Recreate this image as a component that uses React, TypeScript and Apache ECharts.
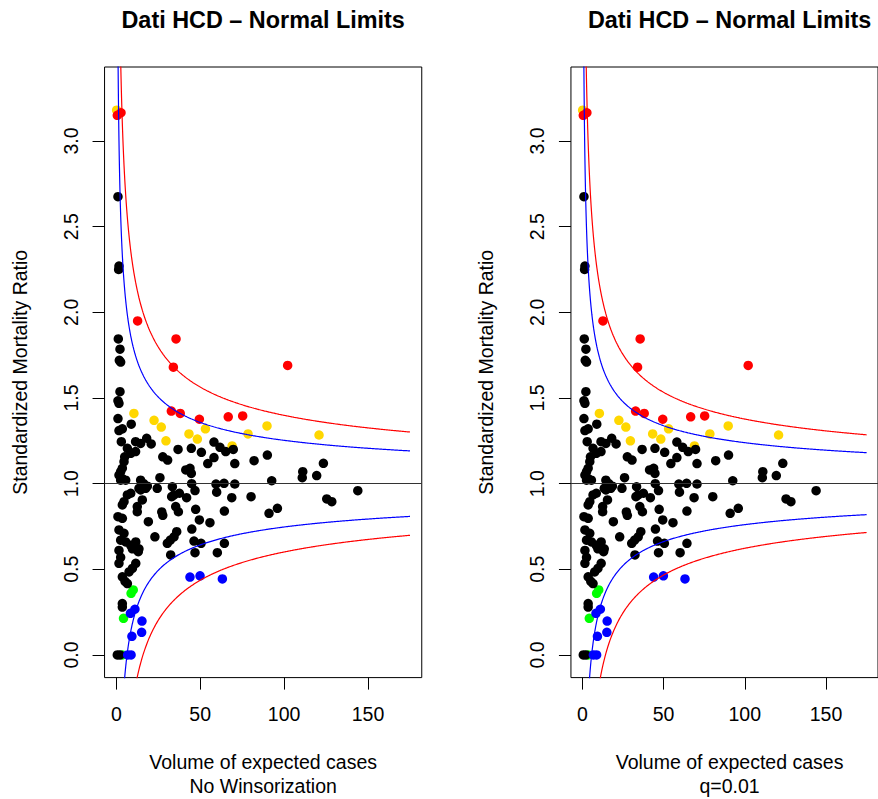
import React, { useEffect, useRef } from "react";
import * as echarts from "echarts";

// ---------- texts ----------
const panelTitles = ["Dati HCD – Normal Limits", "Dati HCD – Normal Limits"];
const xAxisTitles = [
  "Volume of expected cases\nNo Winsorization",
  "Volume of expected cases\nq=0.01",
];
const yAxisTitle = "Standardized Mortality Ratio";

// ---------- axes ----------
const xTicks = [0, 50, 100, 150];
const yTicks = [0, 0.5, 1, 1.5, 2, 2.5, 3];
const X_MIN = -7;
const X_MAX = 182;
const Y_MIN = -0.132;
const Y_MAX = 3.432;
const TARGET = 1;

// ---------- data: [expected cases, SMR] ----------
const inControl: number[][] = [
  [1.0, 2.675], [1.6, 2.27], [1.4, 2.25], [1.2, 1.845], [2.2, 1.785],
  [1.8, 1.72], [2.6, 1.71], [2.2, 1.537], [1.0, 1.484], [1.6, 1.469],
  [1.0, 1.38], [8.9, 1.347], [1.6, 1.31], [3.6, 1.32], [3.0, 1.245],
  [11.5, 1.245], [14.5, 1.235], [18.1, 1.265], [20.8, 1.232],
  [6.6, 1.206], [11.5, 1.187], [8.6, 1.177], [5.0, 1.157], [4.6, 1.128],
  [3.6, 1.09], [2.6, 1.07], [36.8, 1.2], [44.7, 1.206], [27.7, 1.157],
  [30.6, 1.138], [41.4, 1.08], [43.9, 1.09], [44.7, 1.06], [26.0, 1.035],
  [1.6, 1.05], [3.6, 1.03], [5.6, 1.02], [2.6, 1.02], [14.5, 1.02],
  [16.3, 1.0], [18.5, 0.985], [17.5, 0.973], [13.5, 0.973], [14.5, 0.963],
  [24.4, 0.973], [33.4, 0.982], [34.4, 0.934], [33.0, 0.924], [37.6, 0.944],
  [41.9, 0.918], [44.9, 1.0], [46.9, 0.96], [6.6, 0.934], [8.6, 0.944],
  [3.6, 0.876], [4.6, 0.895], [15.5, 0.905], [12.5, 0.866], [12.5, 0.836],
  [35.4, 0.866], [37.0, 0.836], [47.3, 0.85], [1.0, 0.807], [3.6, 0.798],
  [27.1, 0.835], [27.7, 0.815], [19.1, 0.778], [45.0, 0.735], [36.0, 0.72],
  [34.4, 0.69], [32.2, 0.671], [30.4, 0.652], [23.0, 0.69], [46.3, 0.665],
  [50.5, 0.652], [32.4, 0.584], [1.6, 0.73], [4.6, 0.71], [2.6, 0.67],
  [5.6, 0.66], [8.6, 0.64], [11.6, 0.66], [13.5, 0.62], [9.6, 0.62],
  [1.6, 0.61], [2.6, 0.57], [1.6, 0.535], [11.6, 0.535], [9.6, 0.505],
  [7.6, 0.485], [3.6, 0.456], [5.2, 0.43], [6.6, 0.417], [13.1, 0.603],
  [3.6, 0.3], [3.6, 0.28], [0.6, 0], [2.2, 0],
  [58.2, 1.243], [61.8, 1.212], [65.2, 1.187], [69.7, 1.2], [58.2, 1.152],
  [54.5, 1.117], [70.6, 1.117], [82.1, 1.134], [90.0, 1.167], [50.7, 1.183],
  [59.4, 0.998], [59.8, 0.95], [64.2, 1.002], [70.6, 0.998], [92.6, 1.017],
  [68.8, 0.918], [80.3, 0.924], [64.4, 0.84], [91.0, 0.827], [96.0, 0.856],
  [49.5, 0.788], [55.8, 0.772], [64.4, 0.652], [60.2, 0.597], [46.9, 0.597],
  [111.1, 1.07], [110.8, 1.035], [123.4, 1.119], [119.4, 1.047],
  [143.9, 0.959], [125.4, 0.911], [128.4, 0.895],
];
const upperWarning: number[][] = [
  [0.2, 3.18], [10.5, 1.41], [22.5, 1.37], [26.8, 1.33], [29.6, 1.25],
  [43.3, 1.29], [48.3, 1.26], [53.1, 1.32], [69.0, 1.22], [78.5, 1.29],
  [89.8, 1.337], [120.8, 1.284],
];
const upperAlarm: number[][] = [
  [0.6, 3.15], [2.8, 3.165], [12.7, 1.95], [35.6, 1.845], [34.0, 1.68],
  [102.1, 1.69], [32.8, 1.424], [38.1, 1.41], [49.5, 1.376], [66.7, 1.39],
  [75.3, 1.395],
];
const lowerWarning: number[][] = [
  [10.1, 0.38], [8.8, 0.36], [4.3, 0.214], [3.6, 0],
];
const lowerAlarm: number[][] = [
  [11.1, 0.267], [8.4, 0.243], [15.3, 0.198], [15.1, 0.132], [9.3, 0.109],
  [6.8, 0], [8.8, 0], [43.9, 0.455], [49.9, 0.462], [63.2, 0.444],
];

// ---------- funnel limits (normal approximation with overdispersion) ----------
const Z_INNER = 1.96;
const Z_OUTER = 3.09;
const dispersion = [1.665, 1.49]; // per panel: no winsorization, q=0.01
const LIMIT_E_MAX = 175;

function limitCurve(z: number, phi: number, sign: number): number[][] {
  const pts: number[][] = [];
  const es: number[] = [];
  for (let e = 0.3; e < 10; e += 0.05) es.push(e);
  for (let e = 10; e <= LIMIT_E_MAX; e += 0.5) es.push(e);
  for (const e of es) pts.push([e, TARGET + sign * z * Math.sqrt(phi / e)]);
  return pts;
}

const FONT = "'Liberation Sans', Arial, Helvetica, sans-serif";
const COLORS = {
  black: "#000000",
  gold: "#FFD700",
  red: "#FF0000",
  green: "#00FF00",
  blue: "#0000FF",
};

const GRID_TOP = 67;
const GRID_H = 610.6;
const GRID_W = 317.2;
const gridLefts = [104.55, 570.95];

export default function App() {
  const ref = useRef<HTMLDivElement>(null);

  useEffect(() => {
    document.body.style.margin = "0";
    if (!ref.current) return;
    const chart = echarts.init(ref.current, undefined, { renderer: "svg" });

    const grids = gridLefts.map((left) => ({
      left,
      top: GRID_TOP,
      width: GRID_W,
      height: GRID_H,
      show: true,
      borderColor: "#000",
      borderWidth: 1,
      backgroundColor: "transparent",
    }));

    const xAxes = gridLefts.map((_, i) => ({
      type: "value",
      gridIndex: i,
      position: "bottom",
      min: X_MIN,
      max: X_MAX,
      axisLine: { show: false, onZero: false },
      splitLine: { show: false },
      axisTick: {
        show: true,
        inside: false,
        length: 12,
        customValues: xTicks,
        lineStyle: { color: "#000", width: 1 },
      },
      axisLabel: {
        show: true,
        customValues: xTicks,
        margin: 26,
        fontSize: 19.5,
        fontFamily: FONT,
        color: "#000",
        formatter: (v: number) => String(v),
      },
    }));

    const yAxes = gridLefts.map((_, i) => ({
      type: "value",
      gridIndex: i,
      position: "left",
      min: Y_MIN,
      max: Y_MAX,
      axisLine: { show: false, onZero: false },
      splitLine: { show: false },
      axisTick: {
        show: true,
        inside: false,
        length: 12,
        customValues: yTicks,
        lineStyle: { color: "#000", width: 1 },
      },
      axisLabel: {
        show: true,
        customValues: yTicks,
        rotate: 90,
        margin: 24,
        fontSize: 19.5,
        fontFamily: FONT,
        color: "#000",
        formatter: (v: number) => v.toFixed(1),
      },
    }));

    const series: any[] = [];
    gridLefts.forEach((_, i) => {
      const phi = dispersion[i];
      const curves = [
        { z: Z_OUTER, sign: 1, color: COLORS.red },
        { z: Z_INNER, sign: 1, color: COLORS.blue },
        { z: Z_INNER, sign: -1, color: COLORS.blue },
        { z: Z_OUTER, sign: -1, color: COLORS.red },
      ];
      curves.forEach((c, k) => {
        const s: any = {
          type: "line",
          xAxisIndex: i,
          yAxisIndex: i,
          data: limitCurve(c.z, phi, c.sign),
          showSymbol: false,
          symbol: "none",
          clip: true,
          silent: true,
          lineStyle: { color: c.color, width: 1.2 },
        };
        if (k === 0) {
          s.markLine = {
            silent: true,
            symbol: "none",
            label: { show: false },
            lineStyle: { color: "#333", width: 1.2, type: "solid" },
            data: [{ yAxis: TARGET }],
          };
        }
        series.push(s);
      });
      const groups = [
        { data: upperWarning, color: COLORS.gold },
        { data: lowerWarning, color: COLORS.green },
        { data: inControl, color: COLORS.black },
        { data: upperAlarm, color: COLORS.red },
        { data: lowerAlarm, color: COLORS.blue },
      ];
      groups.forEach((g) => {
        series.push({
          type: "scatter",
          xAxisIndex: i,
          yAxisIndex: i,
          data: g.data,
          symbol: "circle",
          symbolSize: 9.5,
          silent: true,
          itemStyle: { color: g.color, opacity: 1 },
        });
      });
    });

    const centers = gridLefts.map((l) => l + GRID_W / 2);
    const graphics: any[] = [];
    centers.forEach((cx, i) => {
      graphics.push({
        type: "text",
        x: cx,
        y: 19.5,
        style: {
          text: panelTitles[i],
          font: `bold 23.4px ${FONT}`,
          fill: "#000",
          align: "center",
          verticalAlign: "middle",
          textAlign: "center",
          textVerticalAlign: "middle",
        },
      });
      graphics.push({
        type: "text",
        x: cx,
        y: 774,
        style: {
          text: xAxisTitles[i],
          font: `19.5px ${FONT}`,
          lineHeight: 24,
          fill: "#000",
          align: "center",
          verticalAlign: "middle",
          textAlign: "center",
          textVerticalAlign: "middle",
        },
      });
      graphics.push({
        type: "text",
        x: gridLefts[i] - 84.5,
        y: GRID_TOP + GRID_H / 2,
        rotation: Math.PI / 2,
        style: {
          text: yAxisTitle,
          font: `19.5px ${FONT}`,
          fill: "#000",
          align: "center",
          verticalAlign: "middle",
          textAlign: "center",
          textVerticalAlign: "middle",
        },
      });
    });

    chart.setOption({
      animation: false,
      backgroundColor: "#ffffff",
      grid: grids,
      xAxis: xAxes,
      yAxis: yAxes,
      series,
      graphic: graphics,
    });

    return () => {
      chart.dispose();
    };
  }, []);

  return (
    <div
      ref={ref}
      style={{ position: "absolute", left: 0, top: 0, width: 878, height: 799 }}
    />
  );
}
